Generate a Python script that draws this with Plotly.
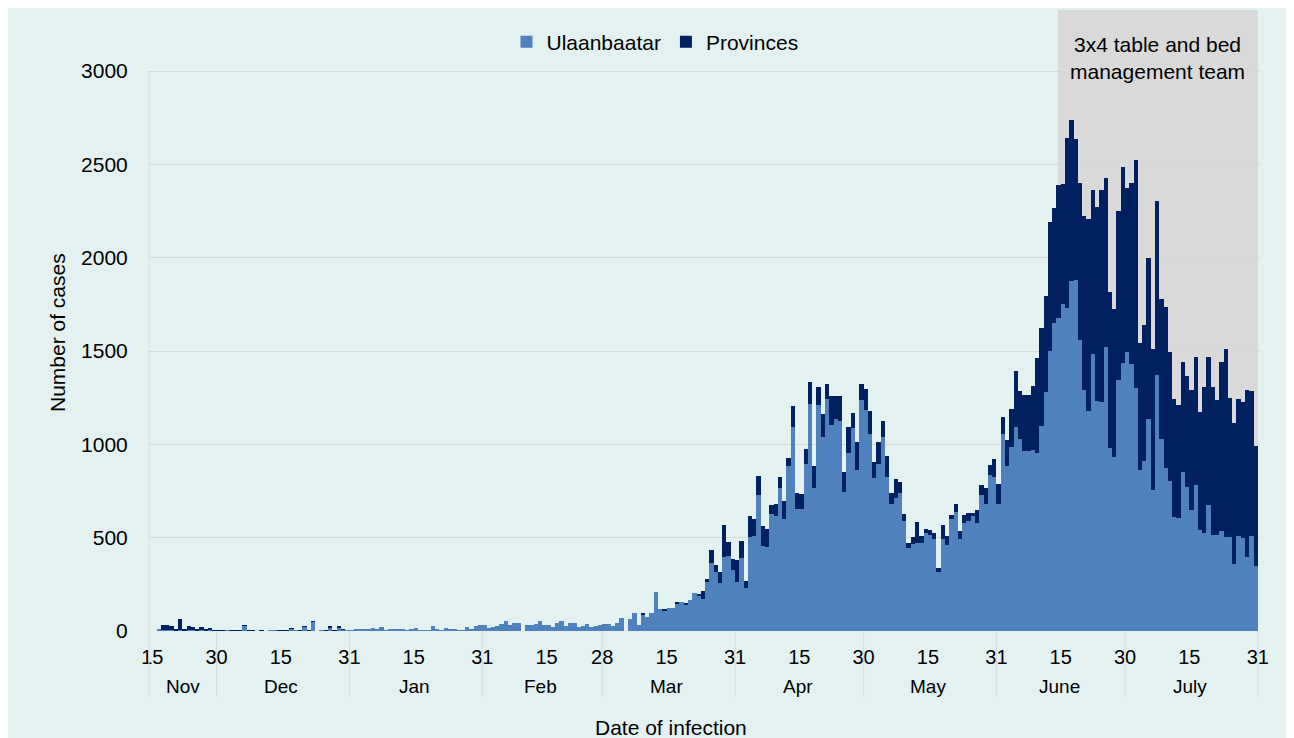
import pandas as pd
import plotly.graph_objects as go

# ---------------- data ----------------
start = pd.Timestamp("2020-11-15")
dates = pd.date_range("2020-11-16", "2021-07-31", freq="D")

ub_nov = [0, 9, 5, 5, 5, 2, 4, 2, 3, 3, 2, 3, 2, 3, 1]
prov_nov = [0, 0, 25, 25, 20, 10, 60, 8, 25, 19, 8, 17, 10, 13, 2]

ub_dec = [3, 3, 4, 3, 3, 2, 30, 1, 2, 0, 1, 0, 3, 3, 2, 2, 3, 13, 3, 2, 24, 4, 50, 0, 3, 4, 21, 4, 21, 7, 5]
prov_dec = [1, 1, 0, 1, 1, 1, 2, 1, 1, 0, 4, 0, 0, 0, 1, 1, 2, 1, 0, 1, 1, 1, 2, 0, 0, 1, 1, 1, 1, 1, 0]

ub_jan = [3, 8, 12, 10, 10, 18, 8, 22, 5, 12, 8, 8, 8, 5, 7, 16, 3, 3, 3, 27, 10, 3, 15, 10, 10, 5, 5, 20, 10, 25, 30]
prov_jan = [0] * 31

ub_feb = [30, 15, 22, 25, 35, 55, 30, 45, 42, 0, 30, 33, 38, 52, 30, 30, 20, 45, 52, 28, 45, 45, 22, 25, 38, 22, 25, 34]
prov_feb = [0] * 28

ub_mar = [39, 39, 27, 41, 71, 0, 62, 98, 30, 89, 77, 98, 211, 120, 109, 123, 123, 145, 155, 140,
          164, 205, 191, 170, 264, 366, 316, 259, 396, 400, 325]
prov_mar = [0, 0, 0, 0, 0, 0, 0, 0, 0, 9, 0, 0, 0, 0, 5, 0, 0, 7, 0, 5,
            0, 0, 9, 42, 14, 66, 39, 57, 173, 75, 59]

ub_apr = [262, 389, 232, 505, 510, 728, 455, 448, 626, 615, 764, 598, 883, 1094, 655, 655, 894, 1218, 767, 1210,
          1040, 1242, 1103, 1138, 1124, 744, 956, 1090, 862, 1236]
prov_apr = [116, 93, 36, 112, 90, 103, 107, 101, 50, 66, 62, 101, 46, 110, 82, 78, 80, 116, 116, 98,
            125, 82, 158, 123, 137, 109, 138, 79, 151, 89]

ub_may = [1186, 1058, 822, 897, 1040, 826, 680, 710, 737, 590, 446, 464, 473, 473, 523, 514, 491, 318, 492, 460,
          599, 635, 491, 580, 589, 615, 580, 728, 680, 835, 826]
prov_may = [113, 121, 84, 116, 84, 111, 57, 102, 62, 36, 27, 41, 109, 37, 26, 27, 32, 21, 74, 50,
            25, 43, 44, 44, 41, 15, 68, 53, 84, 52, 98]

ub_jun = [683, 1055, 886, 985, 1092, 1028, 963, 963, 969, 954, 1098, 1280, 1498, 1649, 1675, 1751, 1732, 1876, 1880, 1557,
          1290, 1179, 1483, 1234, 1229, 1520, 982, 934, 1347, 1437]
prov_jun = [105, 89, 136, 205, 301, 258, 301, 301, 345, 507, 526, 513, 692, 615, 712, 646, 910, 862, 758, 845,
            935, 1026, 879, 1039, 1133, 908, 833, 793, 902, 1048]

ub_jul = [1493, 1430, 1304, 865, 913, 1138, 755, 1369, 1031, 875, 806, 609, 603, 852, 769, 646, 784, 542, 524, 673,
          515, 515, 535, 502, 502, 358, 511, 496, 397, 511, 349]
prov_jul = [878, 972, 1218, 676, 724, 858, 758, 937, 748, 859, 688, 635, 609, 587, 596, 644, 683, 630, 784, 797,
            793, 721, 904, 1011, 747, 756, 733, 731, 895, 775, 642]

ulaanbaatar = ub_nov + ub_dec + ub_jan + ub_feb + ub_mar + ub_apr + ub_may + ub_jun + ub_jul
provinces = prov_nov + prov_dec + prov_jan + prov_feb + prov_mar + prov_apr + prov_may + prov_jun + prov_jul

tick_dates = ["2020-11-15", "2020-11-30", "2020-12-15", "2020-12-31", "2021-01-15", "2021-01-31",
              "2021-02-15", "2021-02-28", "2021-03-15", "2021-03-31", "2021-04-15", "2021-04-30",
              "2021-05-15", "2021-05-31", "2021-06-15", "2021-06-30", "2021-07-15", "2021-07-31"]
month_names = ["Nov", "Dec", "Jan", "Feb", "Mar", "Apr", "May", "June", "July"]
shade_start = "2021-06-15"
shade_label = "3x4 table and bed<br>management team"

# ---------------- geometry (page has an 8px body margin) ----------------
W, H = 1279, 738
ML, MR, MT, MB = 141, 27, 2, 115
PW, PH = W - ML - MR, H - MT - MB
OFF = 8  # page offset of the figure


def px_x(px):  # screenshot px -> paper x
    return (px - OFF - ML) / PW


def px_y(py):  # screenshot py -> paper y
    return (H - MB - (py - OFF)) / PH


def dayv(s):
    return (pd.Timestamp(s) - start).days


x = [(d - start).days - 0.5 for d in dates]
tickvals = [dayv(s) for s in tick_dates]
ticktext = [str(pd.Timestamp(s).day) for s in tick_dates]
month_ends = tickvals[1::2]
month_bounds = [tickvals[0]] + month_ends

FONT = "Liberation Sans, Arial, sans-serif"
BG = "#E4F1F1"
GRID = "#D6D9D9"
LIGHT = "#4F81BD"
DARK = "#002060"
PXDAY = 4.285
X0PX = 152.3  # screenshot px of day 0

fig = go.Figure()
fig.add_trace(go.Bar(x=x, y=ulaanbaatar, name="Ulaanbaatar", width=1,
                     marker=dict(color=LIGHT, line=dict(width=0))))
fig.add_trace(go.Bar(x=x, y=provinces, name="Provinces", width=1,
                     marker=dict(color=DARK, line=dict(width=0))))

shapes = []
# shaded period
shapes.append(dict(type="rect", xref="x", yref="paper",
                   x0=dayv(shade_start) - 0.6, x1=tickvals[-1], y0=0, y1=1,
                   fillcolor="#D9D9D9", line=dict(width=0), layer="between"))
# month separators below axis
for v in month_ends:
    shapes.append(dict(type="line", xref="x", yref="paper", x0=v, x1=v,
                       y0=px_y(697), y1=0, line=dict(color=GRID, width=1)))
# left axis line
shapes.append(dict(type="line", xref="paper", yref="paper", x0=0, x1=0,
                   y0=px_y(697), y1=px_y(71), line=dict(color=GRID, width=1)))

annotations = []
for i, name in enumerate(month_names):
    annotations.append(dict(x=(month_bounds[i] + month_bounds[i + 1]) / 2 - 0.4, y=px_y(686),
                            xref="x", yref="paper", text=name, showarrow=False,
                            font=dict(size=19, color="#000000", family=FONT),
                            xanchor="center", yanchor="middle"))
annotations.append(dict(x=px_x(671), y=px_y(727), xref="paper", yref="paper",
                        text="Date of infection", showarrow=False,
                        font=dict(size=21, color="#000000", family=FONT),
                        xanchor="center", yanchor="middle"))
annotations.append(dict(x=px_x(57), y=px_y(333), xref="paper", yref="paper",
                        text="Number of cases", showarrow=False, textangle=-90,
                        font=dict(size=21, color="#000000", family=FONT),
                        xanchor="center", yanchor="middle"))
annotations.append(dict(x=(dayv(shade_start) + tickvals[-1]) / 2 - 0.3, y=px_y(58),
                        xref="x", yref="paper", text=shade_label, showarrow=False,
                        font=dict(size=21, color="#000000", family=FONT),
                        xanchor="center", yanchor="middle", align="center"))

fig.update_layout(
    width=W, height=H,
    margin=dict(l=ML, r=MR, t=MT, b=MB, pad=0),
    paper_bgcolor=BG,
    plot_bgcolor="rgba(0,0,0,0)",
    barmode="stack", bargap=0,
    font=dict(family=FONT, size=21, color="#000000"),
    showlegend=True,
    legend=dict(orientation="h", x=px_x(655), y=px_y(42), xanchor="center", yanchor="middle",
                bgcolor="rgba(0,0,0,0)", font=dict(size=21, family=FONT, color="#000000"),
                itemsizing="constant", traceorder="normal"),
    shapes=shapes,
    annotations=annotations,
)
fig.update_xaxes(range=[-(X0PX - OFF - ML) / PXDAY, (OFF + ML + PW - X0PX) / PXDAY],
                 tickmode="array", tickvals=tickvals, ticktext=ticktext,
                 showgrid=False, zeroline=False, showline=False,
                 ticks="outside", ticklen=8, tickcolor="rgba(0,0,0,0)",
                 tickfont=dict(size=20, family=FONT, color="#000000"))
fig.update_yaxes(range=[0, 3327], tickmode="array",
                 tickvals=[0, 500, 1000, 1500, 2000, 2500, 3000],
                 showgrid=True, gridcolor=GRID, gridwidth=1, zeroline=False, showline=False,
                 ticks="outside", ticklen=16, tickcolor="rgba(0,0,0,0)",
                 tickfont=dict(size=21, family=FONT, color="#000000"))

fig.write_html("out.html")
